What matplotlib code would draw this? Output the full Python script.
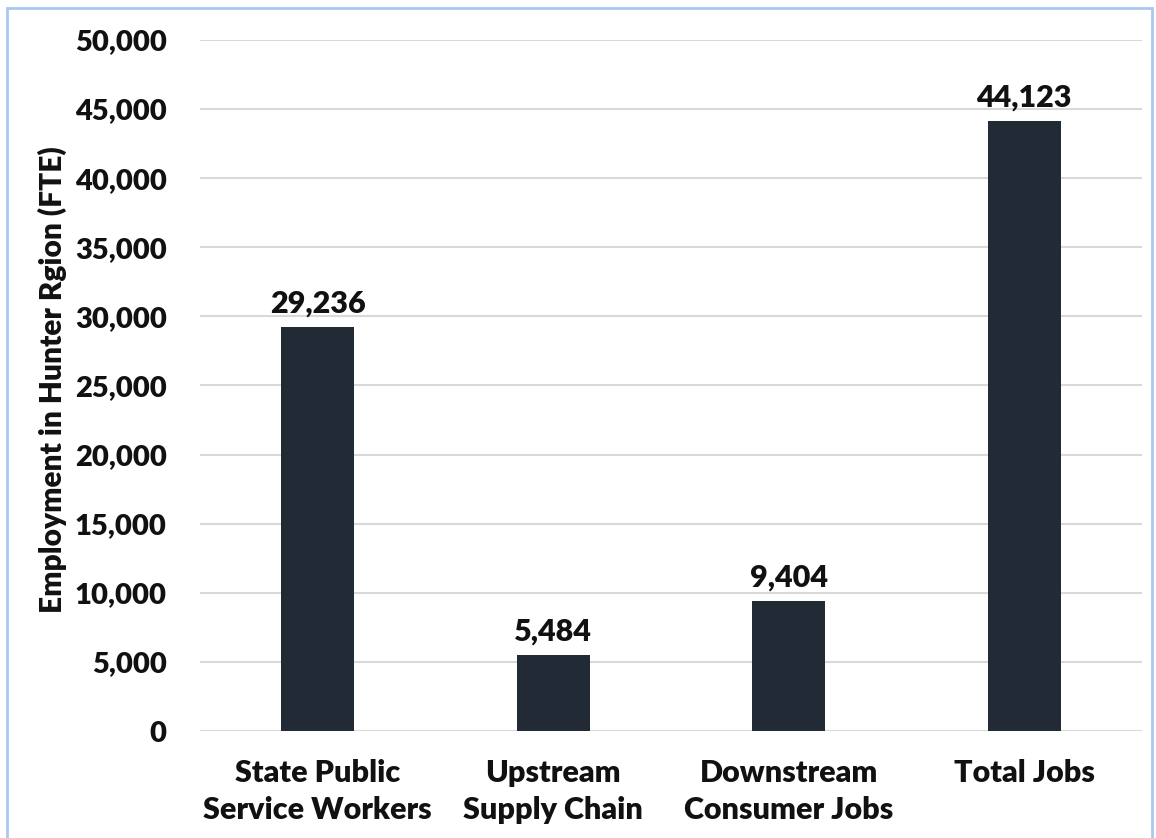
import matplotlib.pyplot as plt
from matplotlib.patches import Rectangle

plt.rcParams.update({
    "font.family": ["Lato", "DejaVu Sans"],
    "font.weight": "heavy",
})

categories = ["State Public\nService Workers", "Upstream\nSupply Chain",
              "Downstream\nConsumer Jobs", "Total Jobs"]
values = [29236, 5484, 9404, 44123]
yticks = list(range(0, 50001, 5000))


def main():
    fig = plt.figure(figsize=(11.56, 8.38), dpi=100)
    ax = fig.add_axes([200 / 1156, 1 - 731 / 838, 942 / 1156, 691 / 838])

    x = range(len(categories))
    ax.bar(x, values, width=0.31, color="#222a35", zorder=3)
    for xi, v in zip(x, values):
        ax.text(xi, v + 700, f"{v:,}", ha="center", va="bottom",
                fontsize=22, fontweight="heavy", color="#111111")

    ax.set_xlim(-0.5, len(categories) - 0.5)
    ax.set_ylim(0, 50000)
    ax.set_yticks(yticks)
    ax.set_yticklabels([f"{t:,}" for t in yticks], fontsize=21, fontweight="heavy", color="#111111")
    ax.set_xticks(list(x))
    ax.set_xticklabels(categories, fontsize=22, fontweight="heavy", color="#111111", linespacing=1.4)
    ax.tick_params(axis="both", length=0)
    ax.tick_params(axis="y", pad=24)
    ax.tick_params(axis="x", pad=20)

    ax.grid(axis="y", color="#d9d9d9", linewidth=1.5, zorder=0)
    for s in ax.spines.values():
        s.set_visible(False)

    fig.text(52 / 1156, 1 - 380 / 838, "Employment in Hunter Rgion (FTE)", rotation=90,
             ha="center", va="center", fontsize=21.5, fontweight="heavy", color="#111111")

    fig.patches.append(Rectangle((7 / 1156, -0.01), 1145 / 1156, 1 - 8 / 838 + 0.01,
                                 transform=fig.transFigure, fill=False,
                                 edgecolor="#a9c8f0", linewidth=2))

    fig.savefig("out.png", dpi=100)


if __name__ == "__main__":
    main()
